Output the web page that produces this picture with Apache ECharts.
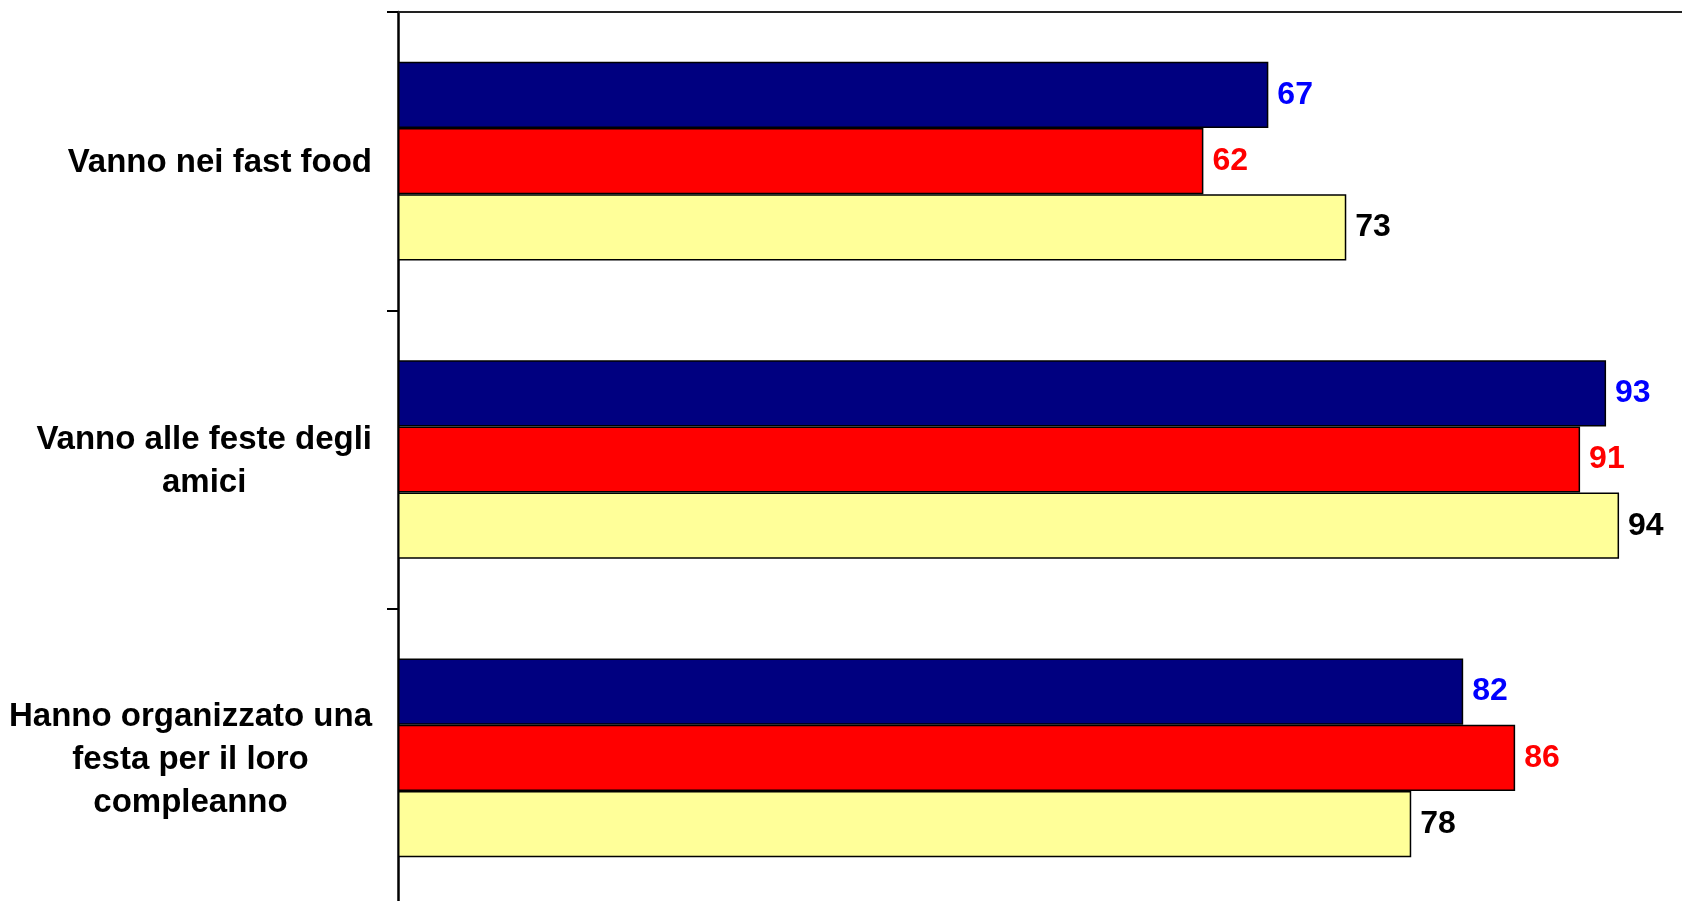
<!DOCTYPE html>
<html>
<head>
<meta charset="utf-8">
<script src="https://cdn.jsdelivr.net/npm/echarts@6/dist/echarts.min.js"></script>
<style>
html,body{margin:0;padding:0;background:#fff;}
#chart{width:1682px;height:901px;}
</style>
</head>
<body>
<div id="chart"></div>
<script>
const categories = [
  "Vanno nei fast food",
  "Vanno alle feste degli\namici",
  "Hanno organizzato una\nfesta per il loro\ncompleanno"
];
const seriesNames = ["Serie 1", "Serie 2", "Serie 3"];
const serie1 = [67, 93, 82];
const serie2 = [62, 91, 86];
const serie3 = [73, 94, 78];
const barColors = ["#000080", "#FF0000", "#FFFF99"];
const labelColors = ["#0000FF", "#FF0000", "#000000"];
const valueData = [serie1, serie2, serie3];

const FONT = "'Liberation Sans', Arial, sans-serif";

const chart = echarts.init(document.getElementById('chart'), null, {renderer: 'canvas'});
chart.setOption({
  animation: false,
  backgroundColor: '#ffffff',
  grid: {left: 398, right: -15, top: 12, bottom: -6, containLabel: false, outerBoundsMode: 'none'},
  xAxis: {
    type: 'value',
    position: 'top',
    min: 0,
    max: 100,
    axisLine: {show: true, lineStyle: {color: '#222', width: 2}},
    axisTick: {show: false},
    axisLabel: {show: false},
    splitLine: {show: false}
  },
  yAxis: {
    type: 'category',
    inverse: true,
    data: categories,
    axisLine: {show: true, onZero: false, lineStyle: {color: '#000', width: 2.5}},
    axisTick: {show: true, length: 11, lineStyle: {color: '#000', width: 2}},
    axisLabel: {
      margin: 26,
      padding: [4, 0, 0, 0],
      formatter: function (v) {
        return v.split('\n').map(s => '{c|' + s + '}').join('\n');
      },
      rich: {
        c: {align: 'center', fontSize: 33, fontWeight: 'bold', fontFamily: FONT, lineHeight: 43, color: '#000'}
      }
    }
  },
  series: valueData.map((d, i) => ({
    name: seriesNames[i],
    type: 'bar',
    data: d,
    barGap: '0%',
    barCategoryGap: '33.4%',
    itemStyle: {color: barColors[i], borderColor: '#000', borderWidth: 1.5},
    label: {
      show: true,
      position: 'right',
      distance: 9,
      color: labelColors[i],
      fontSize: 32,
      fontWeight: 'bold',
      fontFamily: FONT
    }
  }))
});
</script>
</body>
</html>
